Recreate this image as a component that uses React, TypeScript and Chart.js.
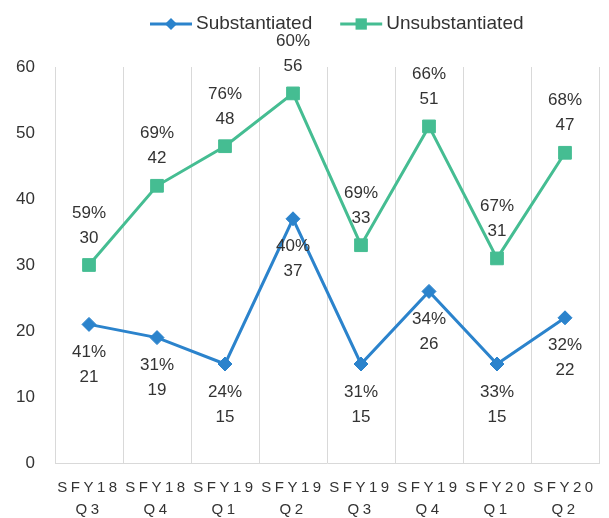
import React, { useEffect, useRef } from "react";
import { Chart, registerables } from "chart.js";

Chart.register(...registerables);

const categories: string[][] = [
  ["SFY18", "Q3"],
  ["SFY18", "Q4"],
  ["SFY19", "Q1"],
  ["SFY19", "Q2"],
  ["SFY19", "Q3"],
  ["SFY19", "Q4"],
  ["SFY20", "Q1"],
  ["SFY20", "Q2"],
];
const substantiated = [21, 19, 15, 37, 15, 26, 15, 22];
const substantiatedPct = ["41%", "31%", "24%", "40%", "31%", "34%", "33%", "32%"];
const unsubstantiated = [30, 42, 48, 56, 33, 51, 31, 47];
const unsubstantiatedPct = ["59%", "69%", "76%", "60%", "69%", "66%", "67%", "68%"];
const yMin = 0;
const yMax = 60;
const yStep = 10;

const BLUE = "#2B83CC";
const GREEN = "#45BD92";
const TEXT = "#333333";
const GRID = "#d9d9d9";
const FONT = "'Liberation Sans', Arial, sans-serif";

function drawMarker(ctx: CanvasRenderingContext2D, style: string, x: number, y: number, r: number, color: string) {
  ctx.save();
  ctx.fillStyle = color;
  ctx.beginPath();
  if (style === "rectRot") {
    ctx.moveTo(x, y - r);
    ctx.lineTo(x + r, y);
    ctx.lineTo(x, y + r);
    ctx.lineTo(x - r, y);
    ctx.closePath();
  } else {
    const s = r / Math.SQRT2;
    ctx.rect(x - s, y - s, 2 * s, 2 * s);
  }
  ctx.fill();
  ctx.restore();
}

const pointLabelPlugin = {
  id: "pointLabels",
  afterDatasetsDraw(chart: any) {
    const ctx: CanvasRenderingContext2D = chart.ctx;
    ctx.save();
    ctx.font = `17px ${FONT}`;
    ctx.fillStyle = TEXT;
    ctx.textAlign = "center";
    ctx.textBaseline = "middle";
    chart.data.datasets.forEach((ds: any, di: number) => {
      const meta = chart.getDatasetMeta(di);
      const pcts: string[] = ds.pctLabels;
      const above = ds.labelAbove;
      meta.data.forEach((pt: any, i: number) => {
        const val = String(ds.data[i]);
        if (above) {
          ctx.fillText(pcts[i], pt.x, pt.y - 52);
          ctx.fillText(val, pt.x, pt.y - 27);
        } else {
          ctx.fillText(pcts[i], pt.x, pt.y + 28);
          ctx.fillText(val, pt.x, pt.y + 53);
        }
      });
    });
    ctx.restore();
  },
};

const legendPlugin = {
  id: "customLegend",
  afterDraw(chart: any) {
    const ctx: CanvasRenderingContext2D = chart.ctx;
    ctx.save();
    ctx.font = `19px ${FONT}`;
    ctx.textAlign = "left";
    ctx.textBaseline = "middle";
    let x = 150;
    const y = 24;
    chart.data.datasets.forEach((ds: any) => {
      const lineW = 42;
      ctx.strokeStyle = ds.borderColor;
      ctx.lineWidth = 3;
      ctx.beginPath();
      ctx.moveTo(x, y);
      ctx.lineTo(x + lineW, y);
      ctx.stroke();
      drawMarker(ctx, ds.pointStyle, x + lineW / 2, y, ds.pointStyle === "rectRot" ? 6 : 8, ds.borderColor);
      const tx = x + lineW + 4;
      ctx.fillStyle = TEXT;
      ctx.fillText(ds.label, tx, y);
      x = tx + ctx.measureText(ds.label).width + 28;
    });
    ctx.restore();
  },
};

const letterSpacingPlugin = {
  id: "xLetterSpacing",
  beforeDraw(chart: any) {
    const sc = chart.scales.x;
    if (sc && !sc.__patched) {
      const orig = sc.drawLabels.bind(sc);
      sc.drawLabels = (area: any) => {
        const c: any = chart.ctx;
        c.save();
        c.letterSpacing = "3.5px";
        orig(area);
        c.restore();
      };
      sc.__patched = true;
    }
  },
};

export default function App() {
  const ref = useRef<HTMLCanvasElement | null>(null);

  useEffect(() => {
    if (!ref.current) return;
    const chart = new Chart(ref.current, {
      type: "line",
      data: {
        labels: categories,
        datasets: [
          {
            label: "Substantiated",
            data: substantiated,
            borderColor: BLUE,
            backgroundColor: BLUE,
            pointBackgroundColor: BLUE,
            pointBorderColor: BLUE,
            pointStyle: "rectRot",
            pointRadius: 7,
            pointBorderWidth: 1,
            borderWidth: 3,
            tension: 0,
            pctLabels: substantiatedPct,
            labelAbove: false,
          } as any,
          {
            label: "Unsubstantiated",
            data: unsubstantiated,
            borderColor: GREEN,
            backgroundColor: GREEN,
            pointBackgroundColor: GREEN,
            pointBorderColor: GREEN,
            pointStyle: "rect",
            pointRadius: 9,
            pointBorderWidth: 1,
            borderWidth: 3,
            tension: 0,
            pctLabels: unsubstantiatedPct,
            labelAbove: true,
          } as any,
        ],
      },
      options: {
        responsive: false,
        animation: false,
        devicePixelRatio: 1,
        layout: { padding: { top: 67, right: 9, left: 0, bottom: 0 } },
        plugins: {
          legend: { display: false },
          tooltip: { enabled: false },
        },
        scales: {
          x: {
            offset: true,
            grid: { display: true, offset: true, color: GRID, lineWidth: 1, drawTicks: false },
            border: { display: true, color: GRID, width: 1 },
            ticks: {
              color: TEXT,
              font: { family: FONT, size: 15, lineHeight: 1.4667 },
              padding: 14,
              maxRotation: 0,
              autoSkip: false,
            },
            afterFit(scale: any) {
              scale.height = 55;
            },
          },
          y: {
            min: yMin,
            max: yMax,
            grid: { display: false, drawTicks: false },
            border: { display: false },
            ticks: {
              stepSize: yStep,
              color: TEXT,
              font: { family: FONT, size: 17 },
              padding: 20,
            },
            afterFit(scale: any) {
              scale.width = 55;
            },
          },
        },
      } as any,
      plugins: [pointLabelPlugin, legendPlugin, letterSpacingPlugin],
    });
    return () => chart.destroy();
  }, []);

  return (
    <div style={{ position: "fixed", left: 0, top: 0, width: 609, height: 518, background: "#fff" }}>
      <canvas ref={ref} width={609} height={518} style={{ display: "block", width: 609, height: 518 }} />
    </div>
  );
}
